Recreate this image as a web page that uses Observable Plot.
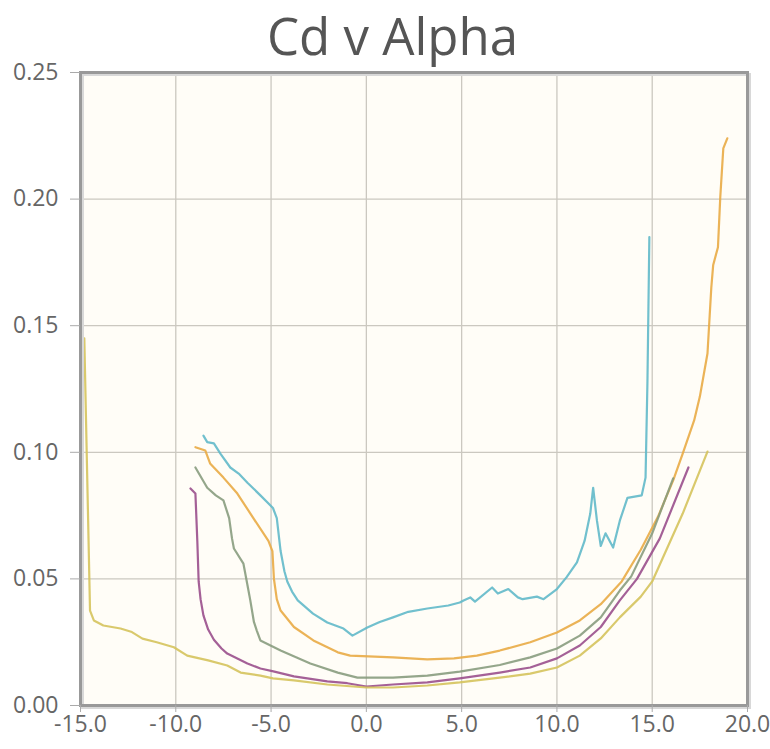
<!DOCTYPE html>
<html><head><meta charset="utf-8">
<script src="https://cdn.jsdelivr.net/npm/d3@7"></script>
<script src="https://cdn.jsdelivr.net/npm/@observablehq/plot@0.6"></script>
<style>
body{margin:0;background:#fff;}
#title{height:66px;width:785px;font-family:"Open Sans";font-size:51px;color:#555;text-align:center;line-height:normal;white-space:nowrap;overflow:visible;}
</style></head><body>
<div id="title">Cd v Alpha</div>
<div id="chart"></div>
<script>
const xTicks = [-15, -10, -5, 0, 5, 10, 15, 20];
const yTicks = [0, 0.05, 0.10, 0.15, 0.20, 0.25];

const seriesNames = ["s1", "s2", "s3", "s4", "s5"];
const seriesColors = ["#62b9c9", "#e9ab45", "#889c7e", "#9a4f8c", "#d5c35c"];

const cyanAlpha = [-8.55, -8.35, -8.0, -7.66, -7.14, -6.7, -6.24, -5.56, -4.9, -4.7, -4.5, -4.3, -4.15, -3.9, -3.6, -2.8, -2.05, -1.2, -0.73, 0.05, 0.7, 1.4, 2.2, 3.2, 4.3, 4.9, 5.1, 5.45, 5.7, 6.6, 6.9, 7.45, 7.95, 8.2, 8.95, 9.3, 10.0, 10.5, 11.05, 11.45, 11.75, 11.9, 12.1, 12.3, 12.55, 12.95, 13.3, 13.7, 14.45, 14.65, 14.75, 14.85];
const cyanCd = [0.1066, 0.104, 0.1035, 0.0995, 0.094, 0.0916, 0.088, 0.083, 0.078, 0.074, 0.061, 0.053, 0.049, 0.045, 0.0415, 0.0363, 0.0328, 0.0304, 0.0276, 0.0308, 0.033, 0.0348, 0.037, 0.0383, 0.0395, 0.0407, 0.0415, 0.0427, 0.041, 0.0466, 0.0442, 0.046, 0.0427, 0.042, 0.043, 0.042, 0.046, 0.0506, 0.0565, 0.065, 0.0758, 0.086, 0.073, 0.063, 0.068, 0.0624, 0.073, 0.082, 0.083, 0.090, 0.128, 0.185];

const orangeAlpha = [-8.97, -8.45, -8.2, -7.5, -6.77, -5.93, -5.14, -4.93, -4.85, -4.7, -4.5, -3.8, -2.78, -1.5, -0.85, 1.4, 3.2, 4.6, 5.8, 7.0, 8.6, 10.0, 11.2, 12.3, 13.4, 14.4, 15.3, 16.1, 16.6, 17.2, 17.5, 17.9, 18.1, 18.2, 18.45, 18.57, 18.73, 18.94];
const orangeCd = [0.102, 0.1007, 0.0956, 0.090, 0.0837, 0.074, 0.065, 0.061, 0.050, 0.042, 0.0375, 0.031, 0.0257, 0.021, 0.0197, 0.019, 0.0182, 0.0186, 0.0197, 0.0217, 0.025, 0.0288, 0.0336, 0.040, 0.049, 0.0615, 0.0745, 0.0889, 0.0995, 0.1126, 0.122, 0.139, 0.165, 0.174, 0.181, 0.2006, 0.220, 0.224];

const greenAlpha = [-8.97, -8.35, -7.9, -7.5, -7.2, -7.05, -6.95, -6.45, -6.25, -6.09, -5.9, -5.75, -5.56, -4.5, -2.94, -1.5, -0.47, 1.4, 3.2, 4.9, 7.0, 8.6, 10.0, 11.2, 12.3, 13.3, 13.9, 15.0, 16.1];
const greenCd = [0.094, 0.086, 0.083, 0.081, 0.074, 0.066, 0.062, 0.056, 0.048, 0.0415, 0.033, 0.0296, 0.0257, 0.0217, 0.0166, 0.013, 0.011, 0.011, 0.0118, 0.0134, 0.016, 0.019, 0.0225, 0.0276, 0.0348, 0.0454, 0.051, 0.068, 0.0897];

const purpleAlpha = [-9.23, -8.97, -8.87, -8.8, -8.7, -8.55, -8.3, -8.0, -7.6, -7.3, -6.77, -6.24, -5.56, -4.88, -3.8, -2.05, -1.0, 0.0, 1.4, 3.2, 4.9, 7.0, 8.6, 10.0, 11.2, 12.3, 13.3, 14.2, 15.4, 16.9];
const purpleCd = [0.0857, 0.0837, 0.065, 0.049, 0.042, 0.0356, 0.030, 0.026, 0.0225, 0.0205, 0.0186, 0.0166, 0.0146, 0.0135, 0.0115, 0.0095, 0.0088, 0.0075, 0.0083, 0.0091, 0.0107, 0.013, 0.015, 0.0186, 0.0237, 0.031, 0.0415, 0.050, 0.066, 0.094];

const yellowAlpha = [-14.8, -14.5, -14.3, -13.8, -12.9, -12.3, -11.75, -11.0, -10.1, -9.4, -8.3, -7.3, -6.6, -5.56, -4.9, -3.8, -2.05, 0.0, 1.4, 3.2, 4.9, 7.0, 8.6, 10.0, 11.2, 12.3, 13.3, 14.4, 15.0, 16.6, 17.9];
const yellowCd = [0.145, 0.0375, 0.0336, 0.0316, 0.0304, 0.029, 0.0264, 0.025, 0.023, 0.0197, 0.0178, 0.0158, 0.013, 0.0118, 0.0107, 0.0099, 0.0083, 0.0071, 0.0071, 0.0079, 0.0091, 0.011, 0.0126, 0.015, 0.0197, 0.0265, 0.0348, 0.043, 0.049, 0.0758, 0.1003];

const seriesData = [
  [cyanAlpha, cyanCd], [orangeAlpha, orangeCd], [greenAlpha, greenCd],
  [purpleAlpha, purpleCd], [yellowAlpha, yellowCd]
];
const rows = [];
seriesData.forEach(([xs, ys], i) => xs.forEach((a, j) => rows.push({series: seriesNames[i], alpha: a, cd: ys[j]})));

const font = "Open Sans";
const chart = Plot.plot({
  width: 770, height: 683,
  marginLeft: 80, marginRight: 23, marginTop: 6, marginBottom: 44,
  x: {domain: [-15, 20]},
  y: {domain: [0, 0.25]},
  color: {domain: seriesNames, range: seriesColors},
  style: {fontFamily: font, fontSize: "23px", color: "#666", background: "transparent", overflow: "visible"},
  marks: [
    Plot.frame({fill: "#fffdf7", stroke: "none"}),
    Plot.gridX(xTicks, {stroke: "#cbc8c0", strokeOpacity: 1, strokeWidth: 1.3}),
    Plot.gridY(yTicks, {stroke: "#cbc8c0", strokeOpacity: 1, strokeWidth: 1.3}),
    Plot.line(rows, {x: "alpha", y: "cd", z: "series", stroke: "series", strokeWidth: 2.2, strokeOpacity: 0.9, curve: "linear"}),
    Plot.frame({stroke: "#d8d8d8", strokeWidth: 3, dx: 2, dy: 2}),
    Plot.frame({stroke: "#999", strokeWidth: 3}),
    Plot.axisX(xTicks, {tickFormat: d => d.toFixed(1), tickSize: 7, tickPadding: 3, stroke: "#aaa", fill: "#666", label: null}),
    Plot.axisY(yTicks, {tickFormat: d => d.toFixed(2), tickSize: 10, tickPadding: 12, stroke: "#aaa", fill: "#666", label: null})
  ]
});
document.getElementById("chart").appendChild(chart);
</script>
</body></html>
